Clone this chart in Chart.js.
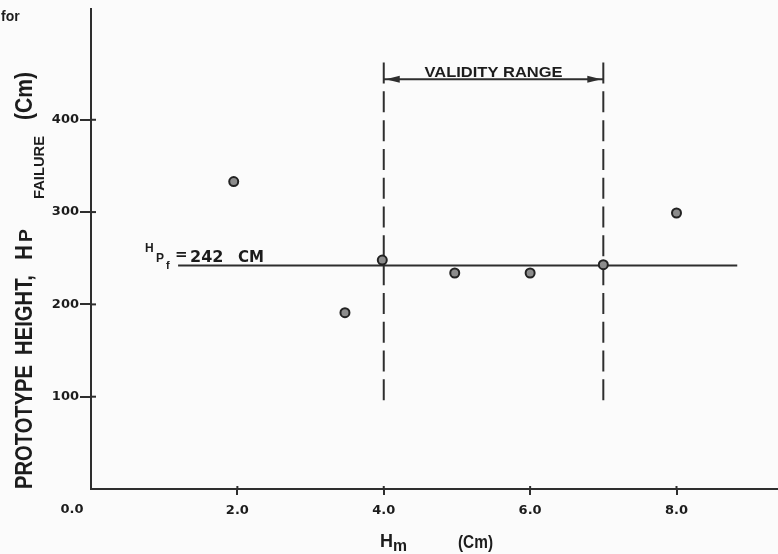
<!DOCTYPE html>
<html><head><meta charset="utf-8">
<script src="https://cdn.jsdelivr.net/npm/chart.js@4/dist/chart.umd.min.js"></script>
<style>html,body{margin:0;padding:0;background:#fbfbfb;overflow:hidden;}#wrap{width:778px;height:554px;position:relative;overflow:hidden;}canvas{display:block;}</style>
</head><body><div id="wrap"><canvas id="c" width="784" height="554"></canvas></div>
<script>
// ---- data ----
const hmValues = [1.95, 3.47, 3.98, 4.97, 6.0, 7.0, 8.0];
const hpValues = [333, 191, 248, 234, 234, 243, 299];
const meanHp = 242;
const meanLineX = [1.19, 8.83];
const validityRange = [4.0, 7.0];
const validityDashY = [462, 96];
const validityArrowY = 444;
const xTickValues = [0, 2, 4, 6, 8];
const xTickLabels = ['0.0', '2.0', '4.0', '6.0', '8.0'];
const yTickValues = [100, 200, 300, 400];
const yTickLabels = ['100', '200', '300', '400'];
const xRange = [0, 9.38];
const yRange = [0, 520];

const INK = '#1c1c1c';
const LINE = '#2e2e2e';

function fitText(ctx, text, x, y, len) {
  const w = ctx.measureText(text).width;
  ctx.save();
  ctx.translate(x, y);
  if (len) ctx.scale(len / w, 1);
  ctx.fillText(text, 0, 0);
  ctx.restore();
}

const decor = {
  id: 'decor',
  afterDraw(chart) {
    const ctx = chart.ctx;
    const xs = chart.scales.x, ys = chart.scales.y;
    const x0 = xs.getPixelForValue(0), y0 = ys.getPixelForValue(0);
    ctx.save();
    ctx.strokeStyle = LINE;
    ctx.lineWidth = 2;
    // inward parts of the crossing tick marks
    yTickValues.forEach(v => {
      const py = ys.getPixelForValue(v);
      ctx.beginPath(); ctx.moveTo(x0, py); ctx.lineTo(x0 + 5, py); ctx.stroke();
    });
    xTickValues.slice(1).forEach(v => {
      const px = xs.getPixelForValue(v);
      ctx.beginPath(); ctx.moveTo(px, y0); ctx.lineTo(px, y0 - 3); ctx.stroke();
    });
    // arrow heads of the validity bracket
    const ay = ys.getPixelForValue(validityArrowY);
    const ax1 = xs.getPixelForValue(validityRange[0]);
    const ax2 = xs.getPixelForValue(validityRange[1]);
    ctx.fillStyle = LINE;
    ctx.beginPath(); ctx.moveTo(ax1 + 2, ay); ctx.lineTo(ax1 + 16, ay - 3.5); ctx.lineTo(ax1 + 16, ay + 3.5); ctx.closePath(); ctx.fill();
    ctx.beginPath(); ctx.moveTo(ax2 - 2, ay); ctx.lineTo(ax2 - 16, ay - 3.5); ctx.lineTo(ax2 - 16, ay + 3.5); ctx.closePath(); ctx.fill();

    ctx.fillStyle = INK;
    ctx.textBaseline = 'alphabetic';
    // origin label
    ctx.font = "bold 13px 'DejaVu Sans'";
    ctx.textAlign = 'center';
    ctx.fillText(xTickLabels[0], x0 - 19, y0 + 24);
    // validity range text
    ctx.font = "bold 15px 'Liberation Sans'";
    const tw = ctx.measureText('VALIDITY RANGE').width;
    ctx.save(); ctx.translate((ax1 + ax2) / 2, ay - 2); ctx.scale(138 / tw, 1); ctx.fillText('VALIDITY RANGE', 0, 0); ctx.restore();
    ctx.textAlign = 'left';
    // H_Pf = 242 CM label
    const ly = ys.getPixelForValue(meanHp);
    ctx.font = "bold 12px 'Liberation Sans'";
    ctx.fillText('H', 145, ly - 14);
    ctx.fillText('P', 156, ly - 4);
    ctx.font = "bold 11px 'Liberation Sans'";
    ctx.fillText('f', 166, ly + 3);
    ctx.font = "bold 15px 'DejaVu Sans'";
    ctx.fillText('=', 175, ly - 7);
    ctx.font = "bold 16px 'DejaVu Sans'";
    ctx.fillText('242', 190, ly - 4);
    fitText(ctx, 'CM', 238, ly - 4, 26);
    // corner text
    ctx.font = "bold 14px 'Liberation Sans'";
    ctx.fillText('for', 1, 21);
    // x axis title
    ctx.font = "bold 19px 'Liberation Sans'";
    fitText(ctx, 'H', 380, 547, 13);
    ctx.font = "bold 16px 'Liberation Sans'";
    fitText(ctx, 'm', 393, 551, 14);
    ctx.font = "bold 19px 'Liberation Sans'";
    fitText(ctx, '(Cm)', 458, 548, 35);
    // y axis title (rotated)
    ctx.save();
    ctx.translate(32, 489);
    ctx.rotate(-Math.PI / 2);
    ctx.font = "bold 23px 'Liberation Sans'";
    fitText(ctx, 'PROTOTYPE', 0, 0, 124);
    fitText(ctx, 'HEIGHT,', 134, 0, 80);
    fitText(ctx, 'H', 229, 0, 15);
    ctx.font = "bold 19px 'Liberation Sans'";
    fitText(ctx, 'P', 247, 0, 13);
    ctx.font = "bold 15px 'Liberation Sans'";
    fitText(ctx, 'FAILURE', 290, 12, 63);
    ctx.font = "bold 23px 'Liberation Sans'";
    fitText(ctx, '(Cm)', 369, 0, 48);
    ctx.restore();
    ctx.restore();
  }
};

const ticksFont = { family: "'DejaVu Sans'", size: 13, weight: 'bold' };

new Chart(document.getElementById('c'), {
  type: 'scatter',
  data: {
    datasets: [
      {
        data: hmValues.map((x, i) => ({ x, y: hpValues[i] })),
        showLine: false,
        pointRadius: 4.5,
        pointBorderWidth: 2,
        pointBorderColor: '#222',
        pointBackgroundColor: '#8c8c8c'
      },
      {
        data: meanLineX.map(x => ({ x, y: meanHp })),
        showLine: true, pointRadius: 0, borderColor: LINE, borderWidth: 2
      },
      {
        data: validityDashY.map(y => ({ x: validityRange[0], y })),
        showLine: true, pointRadius: 0, borderColor: LINE, borderWidth: 2, borderDash: [21, 7.8]
      },
      {
        data: validityDashY.map(y => ({ x: validityRange[1], y })),
        showLine: true, pointRadius: 0, borderColor: LINE, borderWidth: 2, borderDash: [21, 7.8]
      },
      {
        data: validityRange.map(x => ({ x, y: validityArrowY })),
        showLine: true, pointRadius: 0, borderColor: LINE, borderWidth: 2
      }
    ]
  },
  options: {
    responsive: false,
    animation: false,
    devicePixelRatio: 1,
    layout: { padding: { top: 9, left: 0, right: 0, bottom: 0 } },
    plugins: { legend: { display: false }, tooltip: { enabled: false } },
    scales: {
      x: {
        type: 'linear', min: xRange[0], max: xRange[1],
        afterBuildTicks: s => { s.ticks = xTickValues.slice(1).map(v => ({ value: v })); },
        afterFit: s => { s.height = 65; s.paddingLeft = 0; s.paddingRight = 0; },
        ticks: {
          color: INK, font: ticksFont, padding: 8, maxRotation: 0, autoSkip: false,
          callback: v => xTickLabels[xTickValues.indexOf(v)]
        },
        grid: { drawOnChartArea: false, drawTicks: true, tickLength: 6, color: LINE, lineWidth: 2 },
        border: { display: true, color: LINE, width: 2 }
      },
      y: {
        type: 'linear', min: yRange[0], max: yRange[1],
        afterBuildTicks: s => { s.ticks = yTickValues.map(v => ({ value: v })); },
        afterFit: s => { s.width = 91; s.paddingTop = 0; s.paddingBottom = 0; },
        ticks: {
          color: INK, font: ticksFont, padding: 1, autoSkip: false,
          callback: v => yTickLabels[yTickValues.indexOf(v)]
        },
        grid: { drawOnChartArea: false, drawTicks: true, tickLength: 11, color: LINE, lineWidth: 2 },
        border: { display: true, color: LINE, width: 2 }
      }
    }
  },
  plugins: [decor]
});
</script>
</body></html>
